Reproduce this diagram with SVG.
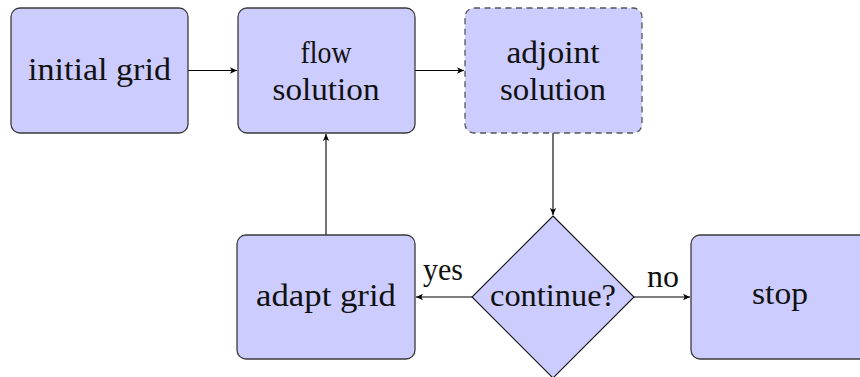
<svg xmlns="http://www.w3.org/2000/svg" width="860" height="377" viewBox="0 0 860 377">
<style>
.box{fill:#ccccff;stroke:#3a3a3a;stroke-width:1.3}
.dash{stroke-dasharray:6 4.5;stroke:#555}
.t{font-family:"Liberation Serif","Times New Roman",serif;font-size:31px;fill:#111;text-anchor:middle}
.edge{stroke:#000;stroke-width:1.1;fill:none;marker-end:url(#ah)}
</style>
<defs>
<marker id="ah" viewBox="0 0 10 10" refX="10" refY="5" markerWidth="7" markerHeight="7" markerUnits="userSpaceOnUse" orient="auto">
<path d="M0,0.5 L10,5 L0,9.5 L2.5,5 Z" fill="#000"/>
</marker>
</defs>
<g id="edges">
<line class="edge" x1="188" y1="70.5" x2="237" y2="70.5"/>
<line class="edge" x1="415" y1="70.5" x2="464" y2="70.5"/>
<line class="edge" x1="553" y1="133" x2="553" y2="215"/>
<line class="edge" x1="472" y1="297" x2="416" y2="297"/>
<line class="edge" x1="634" y1="297" x2="690" y2="297"/>
<line class="edge" x1="326" y1="235" x2="326" y2="134"/>
<text class="t" x="443" y="280" textLength="40" lengthAdjust="spacingAndGlyphs">yes</text>
<text class="t" x="663" y="287" textLength="32" lengthAdjust="spacingAndGlyphs">no</text>
</g>
<g id="initial">
<rect class="box" x="11" y="8" width="177" height="125" rx="9"/>
<text class="t" x="99.5" y="80" textLength="143" lengthAdjust="spacingAndGlyphs">initial grid</text>
</g>
<g id="flow">
<rect class="box" x="238" y="8" width="177" height="125" rx="9"/>
<text class="t" x="326" y="63" textLength="51" lengthAdjust="spacingAndGlyphs">flow</text>
<text class="t" x="326" y="100" textLength="107" lengthAdjust="spacingAndGlyphs">solution</text>
</g>
<g id="adjoint">
<rect class="box dash" x="465" y="8" width="177" height="125" rx="9"/>
<text class="t" x="553" y="63" textLength="93" lengthAdjust="spacingAndGlyphs">adjoint</text>
<text class="t" x="553" y="100" textLength="106" lengthAdjust="spacingAndGlyphs">solution</text>
</g>
<g id="adapt">
<rect class="box" x="237" y="235" width="178" height="124" rx="9"/>
<text class="t" x="326" y="306" textLength="140" lengthAdjust="spacingAndGlyphs">adapt grid</text>
</g>
<g id="decide">
<polygon class="box" points="553,216 634,297 553,378 472,297" style="stroke:#111;stroke-width:1.1"/>
<text class="t" x="553" y="306" textLength="126" lengthAdjust="spacingAndGlyphs">continue?</text>
</g>
<g id="stop">
<rect class="box" x="691" y="235" width="178" height="124" rx="9"/>
<text class="t" x="780" y="304" textLength="56" lengthAdjust="spacingAndGlyphs">stop</text>
</g>
</svg>
